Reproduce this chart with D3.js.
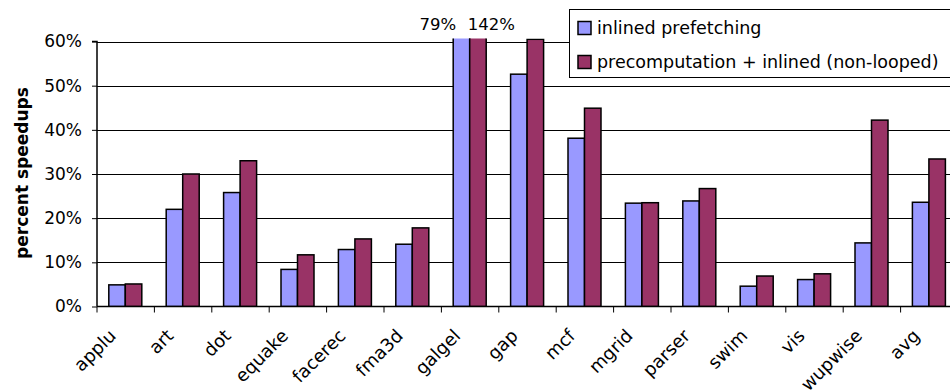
<!DOCTYPE html>
<html><head><meta charset="utf-8">
<script src="https://cdn.jsdelivr.net/npm/d3@7"></script>
<style>body{margin:0;background:#fff}svg{display:block}</style>
</head><body>
<svg id="c" width="950" height="391"></svg>
<script>
const categories = ["applu","art","dot","equake","facerec","fma3d","galgel","gap","mcf","mgrid","parser","swim","vis","wupwise","avg"];
const seriesNames = ["inlined prefetching","precomputation + inlined (non-looped)"];
const inlined = [4.9,22.0,25.8,8.4,12.9,14.1,79,52.6,38.1,23.4,23.9,4.6,6.1,14.4,23.6];
const precomp = [5.1,30.0,33.0,11.7,15.3,17.8,142,60.5,44.9,23.5,26.7,6.9,7.4,42.2,33.4];
const yTicks = [0,10,20,30,40,50,60];
const overLabels = [{cat:"galgel", s:0, text:"79%"},{cat:"galgel", s:1, text:"142%"}];
const colors = ["#9999FF","#993366"];

const svg = d3.select("#c");
const font = "'DejaVu Sans', sans-serif";
const left = 97, bandW = 57.4;
const x = d3.scaleBand().domain(categories).range([left, left + bandW*categories.length]).paddingInner(0).paddingOuter(0);
const y = d3.scaleLinear().domain([0,60]).range([306.5, 41.5]);
const inner = d3.scaleBand().domain([0,1]).range([11.8, 11.8+33]);

// grid lines
svg.append("g").selectAll("line").data(yTicks.filter(d=>d>0)).join("line")
  .attr("x1", left).attr("x2", 960).attr("y1", d=>Math.round(y(d))+0.5).attr("y2", d=>Math.round(y(d))+0.5)
  .attr("stroke", "#000").attr("stroke-width", 1);

svg.append("defs").append("clipPath").attr("id","clip").append("rect")
  .attr("x", left).attr("y", y(60)-3).attr("width", 900).attr("height", y(0)-y(60)+3);

const data = [];
categories.forEach((c,i)=>{ data.push({c, s:0, v:inlined[i]}); data.push({c, s:1, v:precomp[i]}); });
svg.append("g").attr("clip-path","url(#clip)").selectAll("rect").data(data).join("rect")
  .attr("x", d=>x(d.c)+inner(d.s)).attr("width", inner.bandwidth())
  .attr("y", d=>y(d.v)).attr("height", d=>y(0)-y(d.v))
  .attr("fill", d=>colors[d.s]).attr("stroke","#000").attr("stroke-width",1.5);

// y axis
const yAxis = d3.axisLeft(y).tickValues(yTicks).tickFormat(d=>d+"%").tickSize(5).tickPadding(10);
const gy = svg.append("g").attr("transform", `translate(${left},0)`).call(yAxis);
gy.select(".domain").attr("stroke","#000").attr("stroke-width",1.5).attr("d", `M-5,${y(60)}H0V${y(0)}`);
gy.selectAll(".tick line").attr("stroke","#000");
gy.selectAll("text").attr("font-family", font).attr("font-size", 17).attr("fill","#000");

// x axis
const boundaries = categories.map(c=>x(c)).concat([x(categories[categories.length-1])+bandW]);
const gx = svg.append("g");
gx.append("line").attr("x1", left).attr("x2", 960).attr("y1", y(0)).attr("y2", y(0)).attr("stroke","#000").attr("stroke-width",1.5);
gx.selectAll("line.tk").data(boundaries).join("line").attr("class","tk")
  .attr("x1", d=>d).attr("x2", d=>d).attr("y1", y(0)).attr("y2", y(0)+6).attr("stroke","#000");
gx.selectAll("text").data(categories).join("text")
  .attr("transform", d=>`translate(${x(d)+bandW/2-13},${y(0)+26}) rotate(-45)`)
  .attr("text-anchor","end").attr("dy","0.35em")
  .attr("font-family", font).attr("font-size", 18).attr("fill","#000").text(d=>d);

// y title
svg.append("text").attr("transform", `translate(28,173) rotate(-90)`).attr("text-anchor","middle")
  .attr("font-family", font).attr("font-size", 17).attr("font-weight","bold").text("percent speedups");

// overflow labels
svg.append("g").selectAll("text").data(overLabels).join("text")
  .attr("x", d=> d.s===0 ? x(d.cat)+inner(0)+3 : x(d.cat)+inner(1)-2)
  .attr("y", 30).attr("text-anchor", d=> d.s===0 ? "end" : "start")
  .attr("font-family", font).attr("font-size", 16.5).text(d=>d.text);

// legend
const lg = svg.append("g").attr("transform","translate(569.5,9.5)");
lg.append("rect").attr("width", 400).attr("height", 68).attr("fill","#fff").attr("stroke","#000").attr("stroke-width",1);
seriesNames.forEach((n,i)=>{
  lg.append("rect").attr("x", 8.5).attr("y", 12+i*34).attr("width", 13).attr("height", 13)
    .attr("fill", colors[i]).attr("stroke","#000").attr("stroke-width",1.5);
  lg.append("text").attr("x", 27.5).attr("y", 18.5+i*34).attr("dy","0.35em")
    .attr("font-family", font).attr("font-size", 17.5).text(n);
});
</script>
</body></html>
